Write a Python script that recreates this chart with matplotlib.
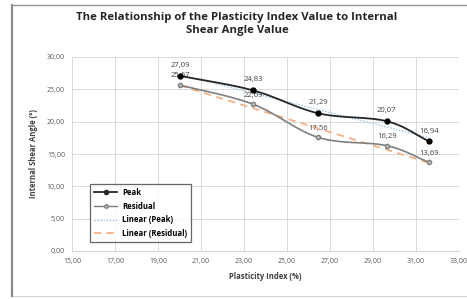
import numpy as np
import matplotlib
matplotlib.use("Agg")
import matplotlib.pyplot as plt
from matplotlib.patches import Rectangle

# Datos
plasticity_index = [20.02, 23.43, 26.46, 29.64, 31.62]
peak = [27.09, 24.83, 21.29, 20.07, 16.94]
residual = [25.67, 22.69, 17.56, 16.29, 13.69]

x_ticks = [15, 17, 19, 21, 23, 25, 27, 29, 31, 33]
y_ticks = [0, 5, 10, 15, 20, 25, 30]


def fmt(v):
    return f"{v:.2f}".replace(".", ",")


def smooth(x, y, n=20):
    # curva suave tipo Excel (Catmull-Rom), solo para dibujar
    x = np.asarray(x, float)
    y = np.asarray(y, float)
    px = np.concatenate([[2 * x[0] - x[1]], x, [2 * x[-1] - x[-2]]])
    py = np.concatenate([[2 * y[0] - y[1]], y, [2 * y[-1] - y[-2]]])
    xs, ys = [], []
    t = np.linspace(0, 1, n)
    for i in range(1, len(px) - 2):
        for arr, out in ((px, xs), (py, ys)):
            p0, p1, p2, p3 = arr[i - 1], arr[i], arr[i + 1], arr[i + 2]
            out.extend(0.5 * ((2 * p1) + (-p0 + p2) * t
                              + (2 * p0 - 5 * p1 + 4 * p2 - p3) * t ** 2
                              + (-p0 + 3 * p1 - 3 * p2 + p3) * t ** 3))
    return np.array(xs), np.array(ys)


plt.rcParams["font.family"] = ["Open Sans", "DejaVu Sans"]

fig = plt.figure(figsize=(4.67, 2.99), dpi=100)
# marco exterior (el borde derecho queda fuera de la imagen)
fig.patches.append(Rectangle((11.5 / 467, 3 / 299), 470 / 467, 291 / 299,
                             transform=fig.transFigure, fill=False,
                             edgecolor="#d0d0d0", linewidth=0.8))
fig.add_artist(plt.Line2D([11.5 / 467, 11.5 / 467], [3 / 299, 294 / 299],
                          transform=fig.transFigure, color="#8c8c8c", linewidth=1.6))
fig.add_artist(plt.Line2D([11.5 / 467, 1], [294 / 299, 294 / 299],
                          transform=fig.transFigure, color="#9a9a9a", linewidth=1.0))
ax = fig.add_axes([72 / 467, 48 / 299, 387 / 467, 194 / 299])

fig.text(237 / 467, 1 - 24 / 299,
         "The Relationship of the Plasticity Index Value to Internal\nShear Angle Value",
         ha="center", va="center", fontsize=8.2, fontweight="bold",
         color="#262626", linespacing=1.35)

# trendlines lineales
xa = np.array([plasticity_index[0], plasticity_index[-1]])
cp = np.polyfit(plasticity_index, peak, 1)
cr = np.polyfit(plasticity_index, residual, 1)
ax.plot(xa, np.polyval(cp, xa), color="#9dc3e6", linestyle=(0, (1, 1.2)),
        linewidth=1.0, label="Linear (Peak)", zorder=2)
ax.plot(xa, np.polyval(cr, xa), color="#f4b183", linestyle=(0, (4, 3)),
        linewidth=1.3, label="Linear (Residual)", zorder=2)

sx, sy = smooth(plasticity_index, peak)
ax.plot(sx, sy, color="#262626", linewidth=1.3, zorder=4)
ax.plot(plasticity_index, peak, "o", color="#000000", markersize=3.5, zorder=5)
rx, ry = smooth(plasticity_index, residual)
ax.plot(rx, ry, color="#7f7f7f", linewidth=1.2, zorder=3)
ax.plot(plasticity_index, residual, "o", color="#7f7f7f", markerfacecolor="#bfbfbf",
        markersize=3, zorder=5)

# leyenda con las series en orden
h_peak = plt.Line2D([], [], color="#262626", marker="o", markersize=3, linewidth=1.3)
h_res = plt.Line2D([], [], color="#7f7f7f", marker="o", markerfacecolor="#bfbfbf",
                   markersize=2.5, linewidth=1.0)
handles = [h_peak, h_res] + ax.get_lines()[:2]
labels = ["Peak", "Residual", "Linear (Peak)", "Linear (Residual)"]
leg = ax.legend(handles, labels, loc="lower left", bbox_to_anchor=(0.036, 0.025),
                frameon=True, fancybox=False, handlelength=3.0,
                borderpad=0.55, labelspacing=0.6, handletextpad=0.6,
                prop={"weight": "bold", "size": 5.6})
leg.get_frame().set_edgecolor("#404040")
leg.get_frame().set_linewidth(0.9)

# etiquetas de datos
for x, p, r in zip(plasticity_index, peak, residual):
    ax.annotate(fmt(p), (x, p), xytext=(0, 5), textcoords="offset points",
                ha="center", va="bottom", fontsize=5.5, color="#404040")
    ax.annotate(fmt(r), (x, r), xytext=(0, 4), textcoords="offset points",
                ha="center", va="bottom", fontsize=5.5, color="#404040")

ax.set_xlim(15, 33)
ax.set_ylim(0, 30)
ax.set_xticks(x_ticks)
ax.set_yticks(y_ticks)
ax.set_xticklabels([fmt(v) for v in x_ticks])
ax.set_yticklabels([fmt(v) for v in y_ticks])
ax.tick_params(labelsize=5, colors="#595959", length=0, pad=5)
ax.grid(True, color="#d9d9d9", linewidth=0.7)
ax.set_axisbelow(True)
for s in ax.spines.values():
    s.set_visible(False)
ax.spines["bottom"].set_visible(True)
ax.spines["bottom"].set_color("#d9d9d9")

ax.set_xlabel("Plasticity Index (%)", fontsize=5.5, fontweight="bold",
              color="#404040", labelpad=5)
ax.set_ylabel("Internal Shear Angle (°)", fontsize=5.5, fontweight="bold",
              color="#404040", labelpad=6)

fig.savefig("out.png", dpi=100)
